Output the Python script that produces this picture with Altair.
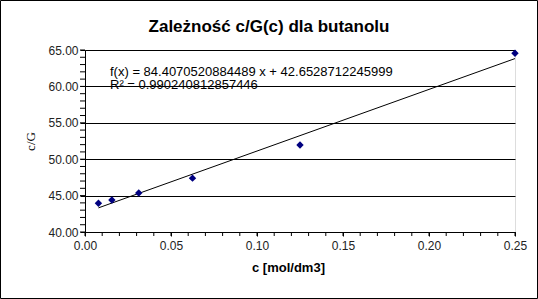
import altair as alt
import pandas as pd

# data
conc = [0.0078125, 0.015625, 0.03125, 0.0625, 0.125, 0.25]
cG = [43.95, 44.4, 45.35, 47.4, 51.95, 64.55]
x_major = [0.0, 0.05, 0.10, 0.15, 0.20, 0.25]
y_major = [40, 45, 50, 55, 60, 65]
x_minor = [i / 100 for i in range(26)]
y_minor = list(range(40, 66))
title_text = "Zależność c/G(c) dla butanolu"
eq_text = "f(x) = 84.4070520884489 x + 42.6528712245999"
r2_text = "R² = 0.990240812857446"

df = pd.DataFrame({"c": conc, "cG": cG})
FONT = "Liberation Sans"

xscale = alt.Scale(domain=[0, 0.25], nice=False, zero=False)
yscale = alt.Scale(domain=[40, 65], nice=False, zero=False)

xaxis = alt.Axis(
    values=x_major, format=".2f", tickCount=50,
    grid=False, tickSize=4, tickColor="black", domainColor="black",
    labelFont=FONT, labelFontSize=12, labelColor="#222222", labelPadding=4,
    labelOverlap=False, labelFlush=False,
    title="c [mol/dm3]", titleFont=FONT, titleFontSize=13, titleFontWeight="bold",
    titleColor="black", titlePadding=10, titleX=203,
)
yaxis = alt.Axis(
    values=y_major, format=".2f", tickCount=50,
    grid=True, gridColor="black", gridOpacity=1,
    tickSize=5, tickColor="black", domainColor="black",
    labelFont=FONT, labelFontSize=12, labelColor="#222222", labelPadding=2,
    labelOverlap=False, labelFlush=False,
    title="c/G", titleFont="Liberation Serif", titleFontSize=13,
    titleFontWeight="normal", titleColor="black", titlePadding=10,
)

base = alt.Chart(df)

points = base.mark_point(shape="diamond", filled=True, color="#000080", size=55, opacity=1).encode(
    x=alt.X("c:Q", scale=xscale, axis=xaxis),
    y=alt.Y("cG:Q", scale=yscale, axis=yaxis),
)

reg = base.transform_regression("c", "cG", method="linear", extent=[conc[0], conc[-1]]).mark_line(
    color="black", strokeWidth=1
).encode(x=alt.X("c:Q", scale=xscale), y=alt.Y("cG:Q", scale=yscale))

xminor = alt.Chart(pd.DataFrame({"t": x_minor})).mark_rule(color="black", strokeWidth=1).encode(
    x=alt.X("t:Q", scale=xscale), y=alt.value(182), y2=alt.value(186)
)
yminor = alt.Chart(pd.DataFrame({"t": y_minor})).mark_rule(color="black", strokeWidth=1).encode(
    y=alt.Y("t:Q", scale=yscale), x=alt.value(-5), x2=alt.value(0)
)

one = alt.Data(values=[{"a": 1}])

eq = alt.Chart(one).mark_text(
    text=eq_text, font=FONT, fontSize=13, align="left", baseline="middle", color="black"
).encode(x=alt.value(25), y=alt.value(22))
r2 = alt.Chart(one).mark_text(
    text=r2_text, font=FONT, fontSize=13, align="left", baseline="middle", color="black"
).encode(x=alt.value(25), y=alt.value(35))
ttl = alt.Chart(one).mark_text(
    text=title_text, font=FONT, fontSize=17, fontWeight="bold", align="center",
    baseline="middle", color="black"
).encode(x=alt.value(184), y=alt.value(-23))
border = alt.Chart(one).mark_rect(fill=None, stroke="black", strokeWidth=1).encode(
    x=alt.value(-84.5), x2=alt.value(452.5), y=alt.value(-49.5), y2=alt.value(248.5)
)

chart = alt.layer(xminor, yminor, reg, points, eq, r2, ttl, border).properties(
    width=430, height=182,
    autosize=alt.AutoSizeParams(type="none"),
    padding={"left": 85, "top": 50, "right": 23, "bottom": 67},
).configure_view(stroke="black", strokeWidth=1).configure(background="white")

chart.save("out.html", embed_options={"renderer": "svg", "actions": False})
